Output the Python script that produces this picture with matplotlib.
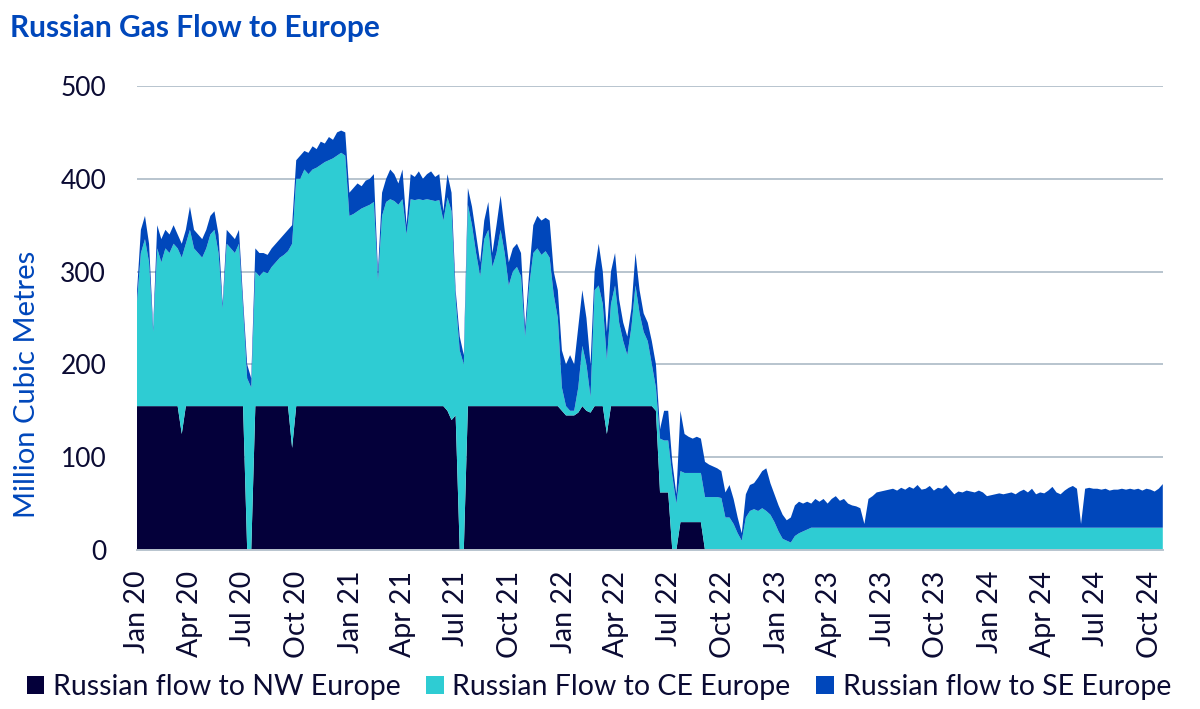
import matplotlib
matplotlib.use("Agg")
import matplotlib.pyplot as plt
import pandas as pd
from matplotlib.patches import Patch

# weekly readings, million cubic metres per day (week starts from 1 Jan 2020)
nw_2020 = [155]*11 + [125] + [155]*15 + [0, 0] + [155]*9 + [110] + [155]*14
ce_2020 = [110, 165, 180, 155, 80, 170, 155, 170, 165, 175, 170, 190, 175, 190, 170, 165, 160, 170,
           185, 190, 165, 105, 175, 170, 165, 175, 105, 185, 175, 145, 140, 145, 143, 150, 155, 160,
           163, 167, 220, 245, 245, 255, 250, 255, 257, 260, 263, 265, 267, 270, 273, 270, 205]
se_2020 = [10, 25, 25, 20, 5, 25, 25, 20, 20, 20, 15, 15, 15, 25, 20, 20, 20, 20, 20, 20, 20, 5,
           15, 15, 15, 15, 10, 15, 10, 25, 25, 20, 20, 20, 20, 20, 22, 23, 20, 20, 25, 20, 23, 25,
           20, 25, 20, 25, 20, 25, 24, 25, 25]

nw_2021 = [155]*23 + [150, 140, 145, 0, 0] + [155]*23 + [150]
ce_2021 = [207, 210, 213, 215, 217, 220, 135, 205, 220, 223, 221, 217, 223, 185, 223, 222, 223, 222,
           223, 222, 221, 222, 200, 230, 225, 125, 215, 200, 217, 195, 165, 140, 180, 190, 150, 165,
           190, 165, 130, 145, 150, 140, 75, 130, 165, 170, 163, 167, 160, 120, 95, 25]
se_2021 = [28, 30, 24, 28, 28, 30, 10, 25, 25, 32, 29, 23, 32, 10, 27, 25, 30, 23, 27, 31, 26, 28,
           10, 25, 20, 10, 15, 10, 18, 20, 20, 15, 20, 30, 15, 30, 37, 25, 25, 25, 25, 25, 10, 15,
           30, 35, 37, 36, 40, 25, 30, 40]

nw_2022 = [145, 145, 145, 148, 155, 150, 148, 155, 155, 155, 125] + [155]*11 + \
          [150, 62, 62, 62, 0, 0] + [30]*6 + [0]*18
ce_2022 = [10, 5, 5, 27, 65, 50, 17, 125, 130, 110, 80, 110, 130, 90, 70, 55, 85, 130, 100, 80,
           70, 45, 25, 58, 56, 56, 80, 50, 55, 53, 53, 53, 53, 53, 57, 57, 57, 57, 56, 35, 35, 28,
           18, 10, 35, 42, 44, 42, 45, 42, 38, 30]
se_2022 = [45, 60, 50, 65, 60, 50, 35, 20, 45, 35, 30, 35, 35, 25, 20, 20, 20, 35, 25, 20, 20, 25,
           25, 10, 32, 32, 15, 10, 65, 42, 39, 37, 39, 37, 38, 35, 33, 31, 29, 27, 35, 27, 17, 8,
           25, 28, 28, 36, 40, 46, 34, 30]

nw_2023 = [0]*52
ce_2023 = [20, 12, 10, 8, 15, 18, 20, 22] + [24]*44
se_2023 = [28, 26, 22, 27, 33, 34, 30, 30, 26, 31, 28, 31, 26, 31, 34, 29, 31, 26, 24, 23, 21, 4,
           31, 34, 38, 39, 40, 41, 42, 40, 43, 41, 44, 42, 46, 41, 42, 45, 40, 43, 42, 46, 41, 36,
           39, 38, 40, 39, 38, 40, 38, 34]

nw_2024 = [0]*43
ce_2024 = [24]*43
se_2024 = [35, 36, 37, 36, 37, 38, 36, 39, 41, 38, 42, 36, 38, 37, 40, 44, 38, 36, 40, 43, 45, 42,
           4, 42, 43, 42, 42, 41, 42, 40, 41, 41, 42, 41, 42, 41, 42, 40, 42, 41, 39, 42, 47]

nw = nw_2020 + nw_2021 + nw_2022 + nw_2023 + nw_2024
ce = ce_2020 + ce_2021 + ce_2022 + ce_2023 + ce_2024
se = se_2020 + se_2021 + se_2022 + se_2023 + se_2024
dates = pd.date_range("2020-01-01", periods=len(nw), freq="7D")

labels = ["Russian flow to NW Europe", "Russian Flow to CE Europe", "Russian flow to SE Europe"]
colors = ["#04003A", "#2ECCD3", "#0047BB"]
navy = "#0B0B33"
blue = "#0047BB"

plt.rcParams["font.family"] = ["Lato", "DejaVu Sans"]

fig = plt.figure(figsize=(12, 7.09), dpi=100)
ax = fig.add_axes([0.114, 0.2243, 0.855, 0.6544])

ax.stackplot(dates, nw, ce, se, colors=colors, linewidth=0)

ax.set_ylim(0, 500)
ax.set_xlim(dates[0], dates[-1])
ax.set_yticks([0, 100, 200, 300, 400, 500])
ax.yaxis.grid(True, color="#B8C4CE", linewidth=1.4)
ax.set_axisbelow(True)
for s in ["top", "right", "left"]:
    ax.spines[s].set_visible(False)
ax.spines["bottom"].set_color("#B8C4CE")
ax.spines["bottom"].set_linewidth(1.4)

ticks = pd.date_range("2020-01-01", "2024-10-01", freq="QS")
ax.set_xticks(ticks)
ax.set_xticklabels([t.strftime("%b %y") for t in ticks], rotation=90)
ax.tick_params(axis="x", length=0, pad=15, labelsize=20.5, colors=navy)
ax.tick_params(axis="y", length=0, pad=22, labelsize=19, colors=navy)

ax.set_ylabel("Million Cubic Metres", color=blue, fontsize=21)
ax.yaxis.set_label_coords(-0.094, 0.357)

fig.text(0.008, 0.96, "Russian Gas Flow to Europe", color=blue, fontsize=21.5,
         fontweight="bold", va="center", ha="left")

handles = [Patch(facecolor=c, edgecolor="none") for c in colors]
fig.legend(handles, labels, loc="center", bbox_to_anchor=(0.499, 0.031), ncol=3, frameon=False,
           fontsize=20.5, labelcolor=navy, handlelength=0.62, handleheight=0.62, handletextpad=0.3,
           columnspacing=0.9, borderpad=0, borderaxespad=0)

fig.savefig("out.png", dpi=100)
